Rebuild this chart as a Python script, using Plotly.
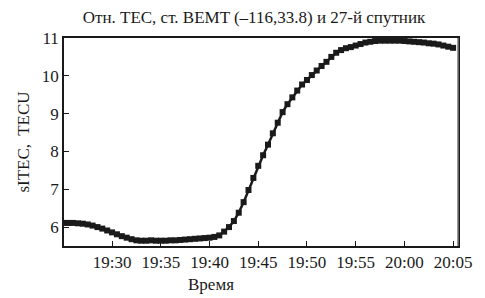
import pandas as pd
import plotly.graph_objects as go

# --- data (30-s samples) ---
start_time = "2000-01-01 19:25:00"
end_time = "2000-01-01 20:05:00"
stec = [
    6.11, 6.11, 6.11, 6.10, 6.09, 6.07, 6.04, 6.00, 5.96, 5.91,
    5.86, 5.81, 5.76, 5.72, 5.68, 5.65, 5.64, 5.64, 5.65, 5.64,
    5.64, 5.64, 5.65, 5.65, 5.66, 5.67, 5.68, 5.69, 5.70, 5.71,
    5.72, 5.74, 5.78, 5.88, 6.00, 6.16, 6.38, 6.66, 6.98, 7.30,
    7.62, 7.90, 8.18, 8.48, 8.76, 9.04, 9.25, 9.43, 9.61, 9.77,
    9.89, 10.02, 10.14, 10.26, 10.37, 10.50, 10.61, 10.68, 10.73, 10.76,
    10.80, 10.84, 10.88, 10.90, 10.92, 10.93, 10.93, 10.93, 10.93, 10.93,
    10.92, 10.91, 10.90, 10.89, 10.88, 10.86, 10.85, 10.83, 10.80, 10.77,
    10.74,
]
tick_times = ["2000-01-01 19:30", "2000-01-01 19:35", "2000-01-01 19:40",
              "2000-01-01 19:45", "2000-01-01 19:50", "2000-01-01 19:55",
              "2000-01-01 20:00", "2000-01-01 20:05"]
tick_labels = ["19:30", "19:35", "19:40", "19:45", "19:50", "19:55", "20:00", "20:05"]
y_ticks = [6, 7, 8, 9, 10, 11]

title_text = "Отн. TEC, ст. BEMT (–116,33.8) и 27-й спутник"
x_title = "Время"
y_title = "sITEC,  TECU"

times = pd.date_range(start_time, end_time, freq="30s")

FONT = "Liberation Serif, Times New Roman, serif"
INK = "#1a1a1a"

fig = go.Figure()
fig.add_trace(go.Scatter(
    x=times, y=stec, mode="lines+markers",
    line=dict(color=INK, width=2.5),
    marker=dict(symbol="square", size=6, color=INK),
    showlegend=False,
))

L, R, T, B = 64, 458, 38, 245.7
fig.update_layout(
    width=485, height=298,
    margin=dict(l=L, r=485 - R, t=T, b=298 - B, autoexpand=False),
    paper_bgcolor="white", plot_bgcolor="white",
    font=dict(family=FONT, color=INK),
    title=dict(text=title_text, x=(254 / 485), xanchor="center",
               y=1 - 17 / 298, yanchor="middle",
               font=dict(size=17, family=FONT, color=INK)),
    annotations=[dict(text=x_title, xref="paper", yref="paper",
                      x=(211 - L) / (R - L), y=-(284 - B) / (B - T),
                      xanchor="center", yanchor="middle", showarrow=False,
                      font=dict(size=17, family=FONT, color=INK))],
    shapes=[dict(type="line", xref="paper", yref="paper", x0=1, x1=1, y0=0, y1=1,
                 line=dict(color="#777777", width=1.5))],
)
fig.update_xaxes(
    range=["2000-01-01 19:25:04", "2000-01-01 20:05:30"],
    tickvals=tick_times, ticktext=tick_labels,
    ticks="inside", ticklen=5, tickwidth=1, tickcolor=INK,
    showline=True, linecolor=INK, linewidth=1.5, mirror=True,
    showgrid=False, zeroline=False,
    tickfont=dict(size=17, family=FONT, color=INK),
)
fig.update_yaxes(
    range=[5.5, 11],
    tickvals=y_ticks,
    ticks="inside", ticklen=5, tickwidth=1, tickcolor=INK,
    showline=True, linecolor=INK, linewidth=1.5, mirror=True,
    showgrid=False, zeroline=False,
    tickfont=dict(size=17, family=FONT, color=INK),
    title=dict(text=y_title, font=dict(size=17, family=FONT, color=INK), standoff=8),
)

fig.write_html("out.html", config={"responsive": False, "displayModeBar": False},
               post_script="document.body.style.margin='0';document.body.style.overflow='hidden';")
